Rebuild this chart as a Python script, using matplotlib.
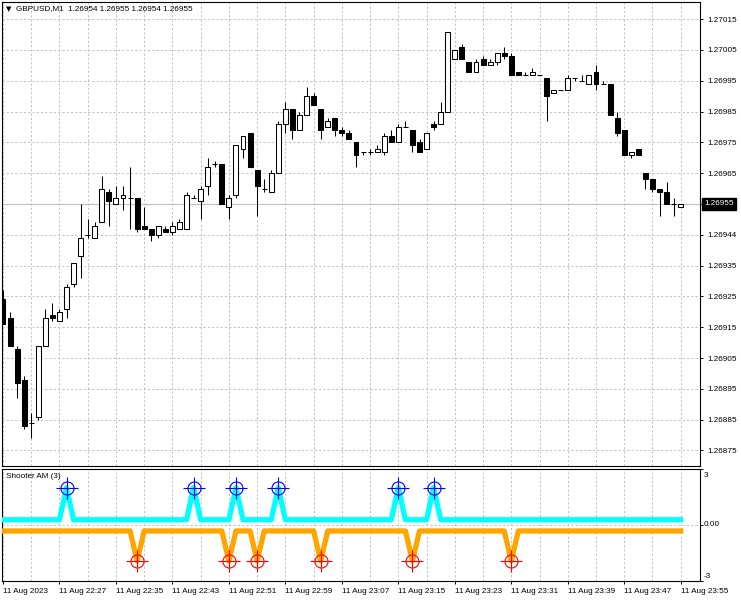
import numpy as np
import matplotlib
matplotlib.use("Agg")
import matplotlib.pyplot as plt
import matplotlib.transforms as mtransforms

plt.rcParams['font.family'] = ['Liberation Sans', 'DejaVu Sans']
plt.rcParams['font.size'] = 5.9

# ---------- data (GBPUSD M1, 11 Aug 2023 22:19 .. 23:55) ----------
opens = [1.26924, 1.26918, 1.26908, 1.26898, 1.26884, 1.26886, 1.26909, 1.26919, 1.26917, 1.26921,
         1.26929, 1.26938, 1.26945, 1.26944, 1.26949, 1.26959, 1.26955, 1.26957, 1.26957, 1.26957,
         1.26948, 1.26947, 1.26945, 1.26947, 1.26946, 1.26947, 1.26947, 1.26957, 1.26956, 1.26961,
         1.26968, 1.26968, 1.26954, 1.26958, 1.26973, 1.26978, 1.26966, 1.26960, 1.26959, 1.26965,
         1.26981, 1.26986, 1.26979, 1.26984, 1.26990, 1.26986, 1.26980, 1.26983, 1.26979, 1.26978,
         1.26975, 1.26972, 1.26972, 1.26972, 1.26972, 1.26977, 1.26975, 1.26980, 1.26979, 1.26975,
         1.26973, 1.26981, 1.26981, 1.26985, 1.27002, 1.27006, 1.27001, 1.26998, 1.27002, 1.27000,
         1.27001, 1.27004, 1.27003, 1.26998, 1.26997, 1.26997, 1.26997, 1.26996, 1.26991, 1.26992,
         1.26992, 1.26996, 1.26995, 1.26994, 1.26998, 1.26994, 1.26994, 1.26983, 1.26979, 1.26971,
         1.26973, 1.26965, 1.26963, 1.26960, 1.26959, 1.26955, 1.26954]
highs = [1.26927, 1.26920, 1.26909, 1.26899, 1.26887, 1.26909, 1.26921, 1.26923, 1.26921, 1.26929,
         1.26936, 1.26955, 1.26950, 1.26949, 1.26964, 1.26960, 1.26961, 1.26961, 1.26967, 1.26957,
         1.26954, 1.26947, 1.26948, 1.26948, 1.26949, 1.26950, 1.26959, 1.26958, 1.26961, 1.26970,
         1.26969, 1.26968, 1.26958, 1.26974, 1.26977, 1.26978, 1.26966, 1.26963, 1.26966, 1.26982,
         1.26988, 1.26986, 1.26985, 1.26993, 1.26991, 1.26986, 1.26983, 1.26983, 1.26980, 1.26979,
         1.26975, 1.26972, 1.26973, 1.26974, 1.26978, 1.26979, 1.26981, 1.26982, 1.26979, 1.26976,
         1.26978, 1.26982, 1.26988, 1.27011, 1.27005, 1.27007, 1.27001, 1.27002, 1.27003, 1.27002,
         1.27004, 1.27006, 1.27004, 1.26998, 1.26998, 1.26999, 1.26997, 1.26996, 1.26992, 1.26992,
         1.26997, 1.26996, 1.26997, 1.26997, 1.27000, 1.26995, 1.26994, 1.26985, 1.26979, 1.26972,
         1.26973, 1.26965, 1.26963, 1.26960, 1.26962, 1.26957, 1.26955]
lows = [1.26916, 1.26909, 1.26892, 1.26882, 1.26879, 1.26885, 1.26909, 1.26917, 1.26917, 1.26918,
        1.26928, 1.26931, 1.26944, 1.26944, 1.26949, 1.26948, 1.26955, 1.26953, 1.26947, 1.26946,
        1.26947, 1.26943, 1.26944, 1.26946, 1.26945, 1.26947, 1.26947, 1.26957, 1.26950, 1.26958,
        1.26967, 1.26955, 1.26950, 1.26957, 1.26970, 1.26967, 1.26951, 1.26959, 1.26959, 1.26965,
        1.26978, 1.26976, 1.26979, 1.26984, 1.26987, 1.26976, 1.26980, 1.26977, 1.26977, 1.26976,
        1.26967, 1.26971, 1.26971, 1.26972, 1.26971, 1.26975, 1.26975, 1.26980, 1.26972, 1.26972,
        1.26973, 1.26979, 1.26981, 1.26985, 1.27002, 1.27002, 1.26998, 1.26998, 1.27000, 1.27000,
        1.27000, 1.27002, 1.26997, 1.26997, 1.26997, 1.26997, 1.26997, 1.26982, 1.26991, 1.26992,
        1.26992, 1.26995, 1.26995, 1.26994, 1.26992, 1.26994, 1.26984, 1.26977, 1.26971, 1.26970,
        1.26971, 1.26960, 1.26959, 1.26951, 1.26955, 1.26951, 1.26954]
closes = [1.26916, 1.26909, 1.26897, 1.26883, 1.26884, 1.26909, 1.26918, 1.26918, 1.26920, 1.26928,
          1.26936, 1.26944, 1.26945, 1.26948, 1.26960, 1.26956, 1.26957, 1.26958, 1.26957, 1.26947,
          1.26947, 1.26945, 1.26948, 1.26946, 1.26948, 1.26949, 1.26958, 1.26957, 1.26960, 1.26967,
          1.26968, 1.26955, 1.26957, 1.26974, 1.26977, 1.26967, 1.26961, 1.26960, 1.26965, 1.26981,
          1.26986, 1.26979, 1.26984, 1.26990, 1.26987, 1.26979, 1.26982, 1.26979, 1.26978, 1.26976,
          1.26971, 1.26972, 1.26972, 1.26973, 1.26977, 1.26975, 1.26980, 1.26980, 1.26974, 1.26972,
          1.26978, 1.26980, 1.26985, 1.27011, 1.27005, 1.27002, 1.26998, 1.27001, 1.27000, 1.27001,
          1.27004, 1.27003, 1.26997, 1.26997, 1.26997, 1.26998, 1.26997, 1.26990, 1.26992, 1.26992,
          1.26996, 1.26996, 1.26995, 1.26997, 1.26994, 1.26994, 1.26984, 1.26978, 1.26971, 1.26972,
          1.26971, 1.26963, 1.26960, 1.26959, 1.26955, 1.26955, 1.26955]

# Shooter AM signals (bar index) and line levels
up_bars = [9, 27, 33, 39, 56, 61]
down_bars = [19, 32, 36, 45, 58, 72]
up_base, up_peak = 0.28, 2.0
down_base, down_peak = -0.32, -1.93

price_ticks = [1.26875, 1.26885, 1.26895, 1.26905, 1.26915, 1.26925, 1.26935, 1.26945,
               1.26955, 1.26965, 1.26975, 1.26985, 1.26995, 1.27005, 1.27015]
price_labels = ["1.26875", "1.26885", "1.26895", "1.26905", "1.26915", "1.26925", "1.26935", "1.26944",
                "", "1.26965", "1.26975", "1.26985", "1.26995", "1.27005", "1.27015"]
time_bars = [0, 8, 16, 24, 32, 40, 48, 56, 64, 72, 80, 88, 96]
time_labels = ["11 Aug 2023", "11 Aug 22:27", "11 Aug 22:35", "11 Aug 22:43", "11 Aug 22:51",
               "11 Aug 22:59", "11 Aug 23:07", "11 Aug 23:15", "11 Aug 23:23", "11 Aug 23:31",
               "11 Aug 23:39", "11 Aug 23:47", "11 Aug 23:55"]
header = "GBPUSD,M1  1.26954 1.26955 1.26954 1.26955"

# ---------- layout in pixels ----------
W, H = 741, 600
def fx(px): return px / W
def fy(py): return 1 - py / H

fig = plt.figure(figsize=(W / 100, H / 100), dpi=100)
ax = fig.add_axes([fx(2), fy(466), (700 - 2) / W, (466 - 2) / H])
ax2 = fig.add_axes([fx(2), fy(581), (700 - 2) / W, (581 - 469) / H])

GRID = dict(color="#c0c0c0", lw=0.7, linestyle=(0, (2.2, 2.2)))
XL = (-0.14, 98.73)

# ---------- candles ----------
o, h, l, c = map(np.array, (opens, highs, lows, closes))
x = np.arange(len(o))
bull, bear, flat = c > o, c < o, c == o
ax.vlines(x, l, h, colors="black", lw=0.75, zorder=3)
ax.bar(x[bull], (c - o)[bull], bottom=o[bull], width=0.7, color="white",
       edgecolor="black", lw=0.75, zorder=4)
ax.bar(x[bear], (o - c)[bear], bottom=c[bear], width=0.7, color="black",
       edgecolor="black", lw=0.75, zorder=4)
ax.hlines(o[flat], x[flat] - 0.35, x[flat] + 0.35, colors="black", lw=0.75, zorder=4)
ax.axhline(closes[-1], color="#c0c0c0", lw=0.8, zorder=2)

ax.set_xlim(*XL)
ax.set_ylim(1.2686994, 1.2702058)
ax.set_xticks(np.arange(0, 97, 4))
ax.tick_params(axis="x", length=0, labelbottom=False)
ax.yaxis.tick_right()
ax.set_yticks(price_ticks)
ax.set_yticklabels(price_labels)
ax.tick_params(axis="y", direction="out", length=2.5, width=0.7, pad=2.5, labelsize=5.9)
ax.grid(True, **GRID)
ax.set_axisbelow(True)
for s in ax.spines.values():
    s.set_color("black"); s.set_linewidth(0.8)

# current bid box
tb = mtransforms.blended_transform_factory(ax.transAxes, ax.transData)
ax.text(1.0062, closes[-1], "1.26955", transform=tb, color="white", va="center", ha="left",
        fontsize=5.9, bbox=dict(boxstyle="square,pad=0.25", fc="black", ec="black"), clip_on=False)

# ---------- indicator window ----------
up_line = np.full(len(o), up_base); up_line[up_bars] = up_peak
dn_line = np.full(len(o), down_base); dn_line[down_bars] = down_peak
ax2.plot(x, up_line, color="#00ffff", lw=3.8, zorder=3)
ax2.plot(x, dn_line, color="#ffa500", lw=3.8, zorder=3)
for bars, lvl, col in [(up_bars, up_peak, "#0000ff"), (down_bars, down_peak, "#ff0000")]:
    ax2.plot(bars, [lvl] * len(bars), "o", ms=9.4, mfc="none", mec=col, mew=0.8, zorder=5)
    ax2.plot(bars, [lvl] * len(bars), "+", ms=16, mec=col, mew=0.8, zorder=5)
ax2.axhline(0, zorder=1, **GRID)

ax2.set_xlim(*XL)
ax2.set_ylim(-3, 3)
ax2.set_xticks(time_bars)
ax2.set_xticklabels(time_labels, ha="left")
ax2.set_xticks(np.arange(0, 97, 4), minor=True)
ax2.tick_params(axis="x", which="major", direction="out", length=2.5, width=0.7, pad=2.5, labelsize=5.9)
ax2.tick_params(axis="x", which="minor", length=0)
ax2.grid(True, axis="x", which="both", **GRID)
ax2.set_axisbelow(True)
ax2.yaxis.tick_right()
ax2.set_yticks([-3, 0, 3])
ax2.set_yticklabels(["", "", ""])
ax2.tick_params(axis="y", direction="out", length=2.5, width=0.7)
for s in ax2.spines.values():
    s.set_color("black"); s.set_linewidth(0.8)
for lab, py in [("3", 475.5), ("0.00", 525), ("-3", 576)]:
    fig.text(fx(704), fy(py), lab, va="center", ha="left", fontsize=5.9)

ax2.text(fx(6) / ((700 - 2) / W) - fx(2) / ((700 - 2) / W), (581 - 476) / 112, "Shooter AM (3)",
         transform=ax2.transAxes, va="center", ha="left", fontsize=5.9)

# ---------- header ----------
fig.text(fx(6), fy(9), "\u25bc", family="DejaVu Sans", fontsize=5, va="center", ha="left")
fig.text(fx(16), fy(9), header, va="center", ha="left", fontsize=5.9)

fig.savefig("out.png", dpi=100)
